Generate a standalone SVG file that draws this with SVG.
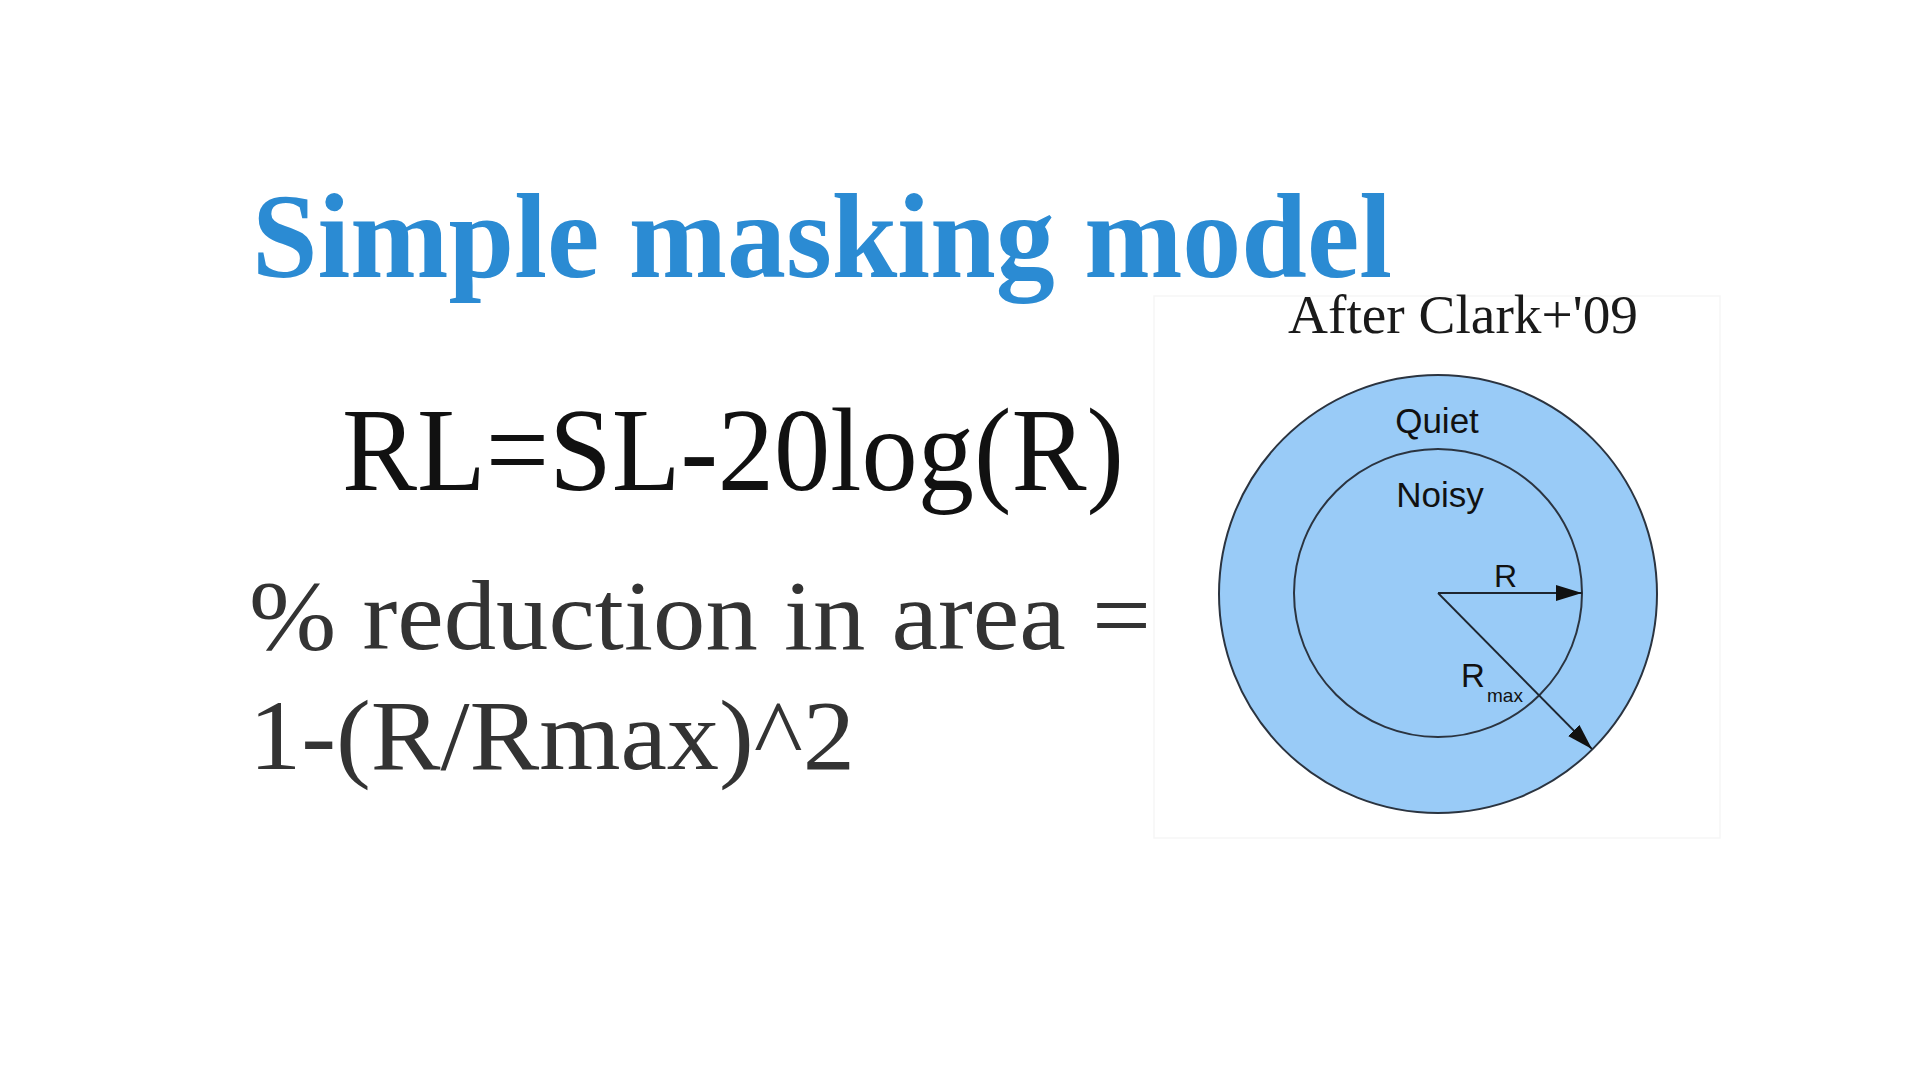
<svg xmlns="http://www.w3.org/2000/svg" width="1920" height="1080" viewBox="0 0 1920 1080">
  <style>
    .title { font-family: "Liberation Serif", "DejaVu Serif", serif; font-weight: bold; font-size: 120px; fill: #2b8bd3; }
    .eq { font-family: "Liberation Serif", "DejaVu Serif", serif; font-size: 118px; fill: #111111; }
    .body { font-family: "Liberation Serif", "DejaVu Serif", serif; font-size: 100px; fill: #333333; }
    .credit { font-family: "Liberation Serif", "DejaVu Serif", serif; font-size: 55px; fill: #1a1a1a; }
    .zone { fill: #99cbf7; stroke: #2b3440; stroke-width: 2; }
    .lbl { font-family: "Liberation Sans", Arial, sans-serif; fill: #111111; }
    .ray { stroke: #1e2630; stroke-width: 1.8; fill: none; }
  </style>
  <defs>
    <marker id="head" viewBox="0 0 26 16" refX="26" refY="8" markerWidth="26" markerHeight="16" markerUnits="userSpaceOnUse" orient="auto">
      <path d="M0,0 L26,8 L0,16 Z" fill="#111111"/>
    </marker>
  </defs>

  <rect width="1920" height="1080" fill="#ffffff"/>

  <!-- heading and formulas -->
  <text class="title" x="252" y="277" textLength="1140" lengthAdjust="spacingAndGlyphs">Simple masking model</text>
  <text class="eq" x="342" y="490" textLength="782" lengthAdjust="spacingAndGlyphs">RL=SL-20log(R)</text>
  <text class="body" x="249" y="649" textLength="902" lengthAdjust="spacingAndGlyphs">% reduction in area =</text>
  <text class="body" x="249" y="769" textLength="606" lengthAdjust="spacingAndGlyphs">1-(R/Rmax)^2</text>

  <!-- figure panel -->
  <rect x="1154" y="296" width="566" height="542" fill="#ffffff" stroke="#f6f6f6" stroke-width="1.5"/>
  <text class="credit" x="1288" y="333" textLength="350" lengthAdjust="spacingAndGlyphs">After Clark+'09</text>

  <g id="quiet-zone">
    <circle class="zone" cx="1438" cy="594" r="219"/>
    <text class="lbl" x="1437" y="433" font-size="35" text-anchor="middle">Quiet</text>
  </g>
  <g id="noisy-zone">
    <circle class="zone" cx="1438" cy="593" r="144"/>
    <text class="lbl" x="1440" y="507" font-size="35" text-anchor="middle">Noisy</text>
  </g>

  <g id="connectors">
    <line class="ray" x1="1438" y1="593" x2="1582" y2="593" marker-end="url(#head)"/>
    <line class="ray" x1="1438" y1="593" x2="1592" y2="749" marker-end="url(#head)"/>
  </g>

  <g id="radius-labels">
    <text class="lbl" x="1494" y="587" font-size="32">R</text>
    <text class="lbl" x="1461" y="687" font-size="33">R</text>
    <text class="lbl" x="1487" y="702" font-size="19">max</text>
  </g>
</svg>
